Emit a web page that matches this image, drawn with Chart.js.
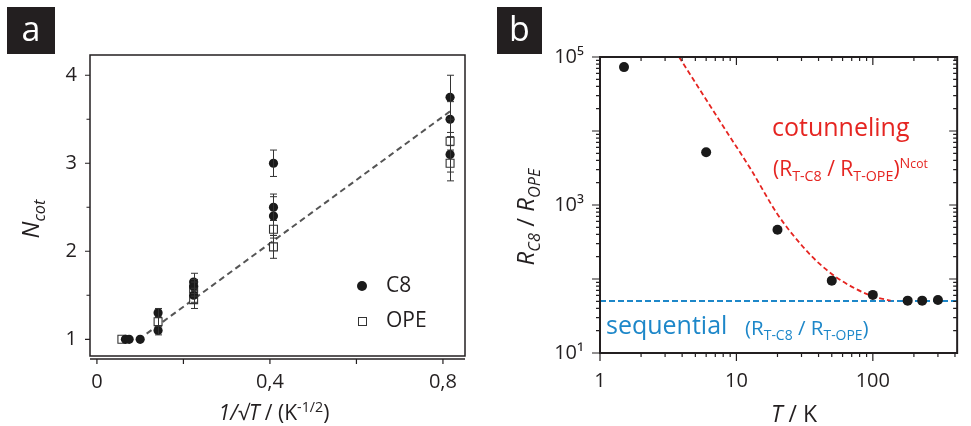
<!DOCTYPE html>
<html>
<head>
<meta charset="utf-8">
<script src="https://cdn.jsdelivr.net/npm/chart.js"></script>
<style>
  body { margin: 0; background: #fff; }
  #wrap { position: relative; width: 971px; height: 426px; overflow: hidden;
          font-family: 'Open Sans', sans-serif; color: #231f20; }
  canvas { position: absolute; top: 0; }
  .tag { position: absolute; background: #231f20; color: #fff; text-align: center;
         font-size: 34px; }
  .txt { position: absolute; white-space: nowrap; line-height: 1; }
  .mid { transform: translate(-50%, -50%); }
  .rot { transform: translate(-50%, -50%) rotate(-90deg); }
  .lo { font-size: 0.68em; position: relative; top: 0.35em; }
  .hi { font-size: 0.68em; position: relative; top: -0.55em; }
  .red { color: #e52521; }
  .blue { color: #1d87c9; }
</style>
</head>
<body>
<div id="wrap">
  <canvas id="chartA" width="490" height="426" style="left:0"></canvas>
  <canvas id="chartB" width="481" height="426" style="left:490px"></canvas>

  <div class="tag" style="left:7px;top:7px;width:48px;height:47px;line-height:42px">a</div>
  <div class="tag" style="left:497px;top:7px;width:45px;height:47px;line-height:42px">b</div>

  <!-- panel a titles + legend -->
  <div class="txt rot" style="left:30px;top:219px;font-size:24px"><i>N</i><span class="lo"><i>cot</i></span></div>
  <div class="txt mid" style="left:274px;top:412px;font-size:21px"><i>1/√T</i> / (K<span class="hi">-1/2</span>)</div>
  <div style="position:absolute;left:357px;top:281px;width:10px;height:10px;border-radius:50%;background:#1a1a1a"></div>
  <div class="txt" style="left:386px;top:274px;font-size:21px">C8</div>
  <div style="position:absolute;left:358px;top:317px;width:7px;height:7px;border:1.2px solid #333;background:#fff"></div>
  <div class="txt" style="left:386px;top:309px;font-size:21px">OPE</div>

  <!-- panel b titles + notes -->
  <div class="txt rot" style="left:525px;top:217px;font-size:24px"><i>R</i><span class="lo"><i>C8</i></span> / <i>R</i><span class="lo"><i>OPE</i></span></div>
  <div class="txt mid" style="left:794px;top:413px;font-size:23px"><i>T</i> / K</div>
  <div class="txt red" style="left:772px;top:114px;font-size:25px">cotunneling</div>
  <div class="txt red" style="left:773px;top:158px;font-size:21px">(R<span class="lo">T-C8</span> / R<span class="lo">T-OPE</span>)<span class="hi">N<span style="font-size:0.85em">cot</span></span></div>
  <div class="txt blue" style="left:606px;top:312px;font-size:25px">sequential</div>
  <div class="txt blue" style="left:745px;top:317px;font-size:20.5px">(R<span class="lo">T-C8</span> / R<span class="lo">T-OPE</span>)</div>
</div>

<script>
// ---- panel a : N_cot vs 1/sqrt(T) ----
const c8X   = [0.0659, 0.0745, 0.1, 0.1414, 0.1414, 0.2236, 0.2236, 0.2236, 0.4082, 0.4082, 0.4082, 0.8165, 0.8165, 0.8165];
const c8N   = [1, 1, 1, 1.3, 1.1, 1.65, 1.6, 1.5, 3.0, 2.5, 2.4, 3.75, 3.5, 3.1];
const c8Err = [0, 0, 0, 0.05, 0.05, 0.1, 0.08, 0.08, 0.15, 0.15, 0.22, 0.25, 0.2, 0.2];
const opeX   = [0.0577, 0.1414, 0.2236, 0.2236, 0.4082, 0.4082, 0.8165, 0.8165];
const opeN   = [1, 1.2, 1.57, 1.45, 2.25, 2.05, 3.25, 3.0];
const opeErr = [0, 0.05, 0.08, 0.1, 0.1, 0.13, 0.1, 0.2];
const fitX = [0.115, 0.8165];
const fitN = [1.064, 3.59];

const xTicksA  = [0, 0.2, 0.4, 0.6, 0.8];
const xLabelsA = ['0', '', '0,4', '', '0,8'];
const yTicksA  = [1, 1.5, 2, 2.5, 3, 3.5, 4];
const yLabelsA = ['1', '', '2', '', '3', '', '4'];

// ---- panel b : R_C8/R_OPE vs T ----
const tempK = [1.5, 6, 20, 50, 100, 180, 230, 300];
const ratio = [73000, 5150, 463, 95, 61, 51, 51, 52];
const cotT = [3.8, 5.4, 8.3, 12.8, 20, 30.6, 40, 52.7, 73, 101, 135];
const cotR = [100000, 36000, 10400, 3000, 750, 275, 165, 109, 75.5, 58, 51];
const seqT = [1, 415];
const seqR = [50.5, 50.5];

const xTicksB  = [1,2,3,4,5,6,7,8,9,10,20,30,40,50,60,70,80,90,100,200,300,400];
const xLabelsB = {1: '1', 10: '10', 100: '100'};
const yTicksB  = [10,20,30,40,50,60,70,80,90,100,200,300,400,500,600,700,800,900,
                  1000,2000,3000,4000,5000,6000,7000,8000,9000,10000,
                  20000,30000,40000,50000,60000,70000,80000,90000,100000];
const yLabelsB = {10: '10¹', 1000: '10³', 100000: '10⁵'};
const decades = [1, 10, 100, 1000, 10000, 100000];

const ink = '#231f20';
const tickFont = { family: "'Open Sans', sans-serif", size: 20 };

function toPts(xs, ys) { return xs.map((x, i) => ({ x, y: ys[i] })); }

// error bars drawn through the library scales
const errorBars = {
  id: 'errorBars',
  afterDatasetsDraw(chart, args, o) {
    if (!o.sets) return;
    const { ctx, scales: { x, y } } = chart;
    ctx.save();
    ctx.strokeStyle = '#333';
    ctx.lineWidth = 1;
    o.sets.forEach(s => s.x.forEach((xv, i) => {
      const e = s.err[i];
      if (!e) return;
      const px = Math.round(x.getPixelForValue(xv)) + 0.5;
      const p1 = y.getPixelForValue(s.y[i] + e), p2 = y.getPixelForValue(s.y[i] - e);
      ctx.beginPath();
      ctx.moveTo(px, p1); ctx.lineTo(px, p2);
      ctx.moveTo(px - 3.5, p1); ctx.lineTo(px + 3.5, p1);
      ctx.moveTo(px - 3.5, p2); ctx.lineTo(px + 3.5, p2);
      ctx.stroke();
    }));
    ctx.restore();
  }
};

// box, axis lines and tick marks
const frame = {
  id: 'frame',
  afterDatasetsDraw(chart, args, o) {
    const { ctx, chartArea: a, scales: { x, y } } = chart;
    ctx.save();
    ctx.strokeStyle = ink;
    ctx.lineWidth = o.box;
    ctx.strokeRect(a.left, a.top, a.right - a.left, a.bottom - a.top);
    const xb = a.bottom + o.gap;
    if (o.gap) {
      ctx.beginPath(); ctx.moveTo(a.left, xb); ctx.lineTo(a.right, xb); ctx.stroke();
    }
    ctx.lineWidth = o.tick;
    ctx.beginPath();
    x.ticks.forEach(t => {
      const px = x.getPixelForValue(t.value);
      const len = t.major ? o.major : o.minor;
      ctx.moveTo(px, xb); ctx.lineTo(px, xb + len);
      if (o.mirror) { ctx.moveTo(px, a.top); ctx.lineTo(px, a.top + len); }
    });
    y.ticks.forEach(t => {
      const py = y.getPixelForValue(t.value);
      const len = t.major ? o.major : o.minor;
      ctx.moveTo(a.left, py); ctx.lineTo(a.left - len, py);
      if (o.mirror) { ctx.moveTo(a.right, py); ctx.lineTo(a.right - len, py); }
    });
    ctx.stroke();
    ctx.restore();
  }
};

function axisOpts(extra) {
  return Object.assign({
    grid: { display: false, drawTicks: false },
    border: { display: false },
  }, extra);
}

new Chart(document.getElementById('chartA'), {
  type: 'scatter',
  data: {
    datasets: [
      { label: 'C8', data: toPts(c8X, c8N), pointStyle: 'circle', pointRadius: 4.6,
        backgroundColor: '#1a1a1a', borderColor: '#1a1a1a', borderWidth: 0 },
      { label: 'OPE', data: toPts(opeX, opeN), pointStyle: 'rect', pointRadius: 5.6,
        backgroundColor: '#fff', borderColor: '#333', borderWidth: 1.1 },
      { label: 'fit', type: 'line', data: toPts(fitX, fitN), borderColor: '#555',
        borderWidth: 2, borderDash: [6, 4], pointRadius: 0, fill: false }
    ]
  },
  options: {
    responsive: false, animation: false,
    layout: { padding: { top: 55, right: 25, left: 0, bottom: 0 } },
    plugins: {
      legend: { display: false }, tooltip: { enabled: false },
      errorBars: { sets: [
        { x: c8X, y: c8N, err: c8Err },
        { x: opeX, y: opeN, err: opeErr }
      ] },
      frame: { box: 1.5, gap: 3, tick: 1.2, major: 5, minor: 3.5, mirror: false }
    },
    scales: {
      x: axisOpts({
        type: 'linear', min: -0.016, max: 0.851,
        afterBuildTicks: s => { s.ticks = xTicksA.map(v => ({ value: v, major: true })); },
        afterFit: s => { s.height = 70; },
        ticks: { autoSkip: false, maxRotation: 0, padding: 14, color: ink, font: tickFont,
                 callback: v => xLabelsA[xTicksA.indexOf(v)] ?? '' }
      }),
      y: axisOpts({
        type: 'linear', min: 0.81, max: 4.23,
        afterBuildTicks: s => { s.ticks = yTicksA.map((v, i) => ({ value: v, major: yLabelsA[i] !== '' })); },
        afterFit: s => { s.width = 90; },
        ticks: { autoSkip: false, padding: 13, color: ink, font: tickFont,
                 callback: v => yLabelsA[yTicksA.indexOf(v)] ?? '' }
      })
    }
  },
  plugins: [errorBars, frame]
});

new Chart(document.getElementById('chartB'), {
  type: 'scatter',
  data: {
    datasets: [
      { label: 'data', data: toPts(tempK, ratio), pointStyle: 'circle', pointRadius: 5,
        backgroundColor: '#1a1a1a', borderWidth: 0 },
      { label: 'cotunneling', type: 'line', data: toPts(cotT, cotR), borderColor: '#e52521',
        borderWidth: 1.8, borderDash: [5, 3], pointRadius: 0, tension: 0.4,
        cubicInterpolationMode: 'monotone', fill: false },
      { label: 'sequential', type: 'line', data: toPts(seqT, seqR), borderColor: '#1d87c9',
        borderWidth: 2, borderDash: [6, 3], pointRadius: 0, fill: false }
    ]
  },
  options: {
    responsive: false, animation: false,
    layout: { padding: { top: 57, right: 1, left: 0, bottom: 0 } },
    plugins: {
      legend: { display: false }, tooltip: { enabled: false },
      frame: { box: 2, gap: 0, tick: 1.2, major: 8, minor: 4, mirror: true }
    },
    scales: {
      x: axisOpts({
        type: 'logarithmic', min: 1, max: 415,
        afterBuildTicks: s => { s.ticks = xTicksB.map(v => ({ value: v, major: decades.includes(v) })); },
        afterFit: s => { s.height = 73; },
        ticks: { autoSkip: false, maxRotation: 0, padding: 16, color: ink, font: tickFont,
                 callback: v => xLabelsB[v] ?? '' }
      }),
      y: axisOpts({
        type: 'logarithmic', min: 10, max: 100000,
        afterBuildTicks: s => { s.ticks = yTicksB.map(v => ({ value: v, major: decades.includes(v) })); },
        afterFit: s => { s.width = 110; },
        ticks: { autoSkip: false, padding: 16, color: ink, font: tickFont,
                 callback: v => yLabelsB[v] ?? '' }
      })
    }
  },
  plugins: [frame]
});
</script>
</body>
</html>
